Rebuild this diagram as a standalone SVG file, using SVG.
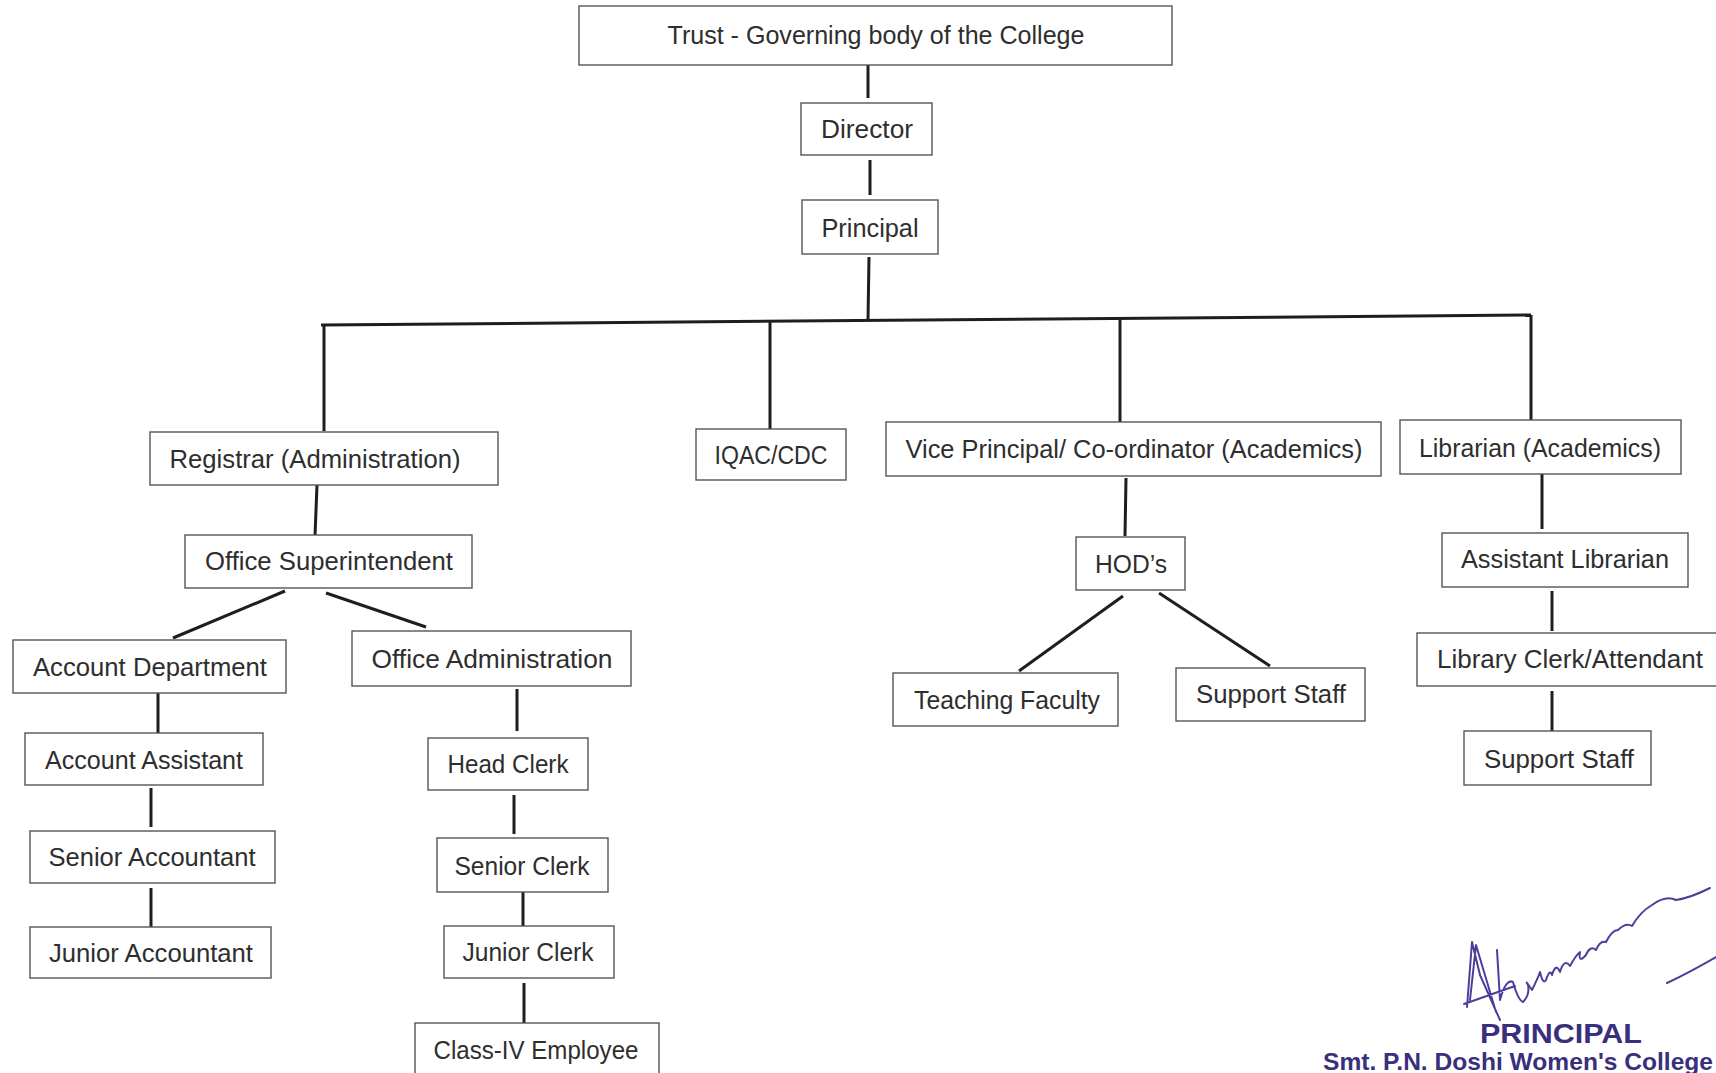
<svg xmlns="http://www.w3.org/2000/svg" width="1716" height="1073" viewBox="0 0 1716 1073">
<style>
.box{fill:#fff;stroke:#555;stroke-width:1.4}
.t{font-family:"Liberation Sans",Arial,sans-serif;font-size:25px;fill:#2e2e2e;text-anchor:middle}
.c{stroke:#1e1e1e;stroke-width:3;fill:none;stroke-linecap:butt}
.sig{stroke:#4b3f9c;stroke-width:2;fill:none;stroke-linecap:round;stroke-linejoin:round}
.st{font-family:"Liberation Sans",Arial,sans-serif;font-weight:bold;fill:#3a2f7c}
</style>
<rect width="1716" height="1073" fill="#fff"/>
<g id="connectors">
<line class="c" x1="868" y1="65" x2="868" y2="98"/>
<line class="c" x1="870" y1="160" x2="870" y2="195"/>
<line class="c" x1="869" y1="257" x2="868" y2="320"/>
<line class="c" x1="321" y1="325" x2="1531" y2="315"/>
<line class="c" x1="324" y1="325" x2="324" y2="431"/>
<line class="c" x1="770" y1="322" x2="770" y2="430"/>
<line class="c" x1="1120" y1="317" x2="1120" y2="422"/>
<line class="c" x1="1531" y1="315" x2="1531" y2="420"/>
<line class="c" x1="317" y1="485" x2="315" y2="536"/>
<line class="c" x1="285" y1="591" x2="173" y2="638"/>
<line class="c" x1="326" y1="593" x2="426" y2="627"/>
<line class="c" x1="158" y1="693" x2="158" y2="733"/>
<line class="c" x1="151" y1="788" x2="151" y2="827"/>
<line class="c" x1="151" y1="888" x2="151" y2="927"/>
<line class="c" x1="517" y1="689" x2="517" y2="731"/>
<line class="c" x1="514" y1="795" x2="514" y2="834"/>
<line class="c" x1="523" y1="892" x2="523" y2="932"/>
<line class="c" x1="524" y1="983" x2="524" y2="1023"/>
<line class="c" x1="1126" y1="478" x2="1125" y2="536"/>
<line class="c" x1="1123" y1="596" x2="1019" y2="671"/>
<line class="c" x1="1159" y1="593" x2="1270" y2="666"/>
<line class="c" x1="1542" y1="474" x2="1542" y2="529"/>
<line class="c" x1="1552" y1="591" x2="1552" y2="631"/>
<line class="c" x1="1552" y1="691" x2="1552" y2="731"/>
</g>
<g id="trust"><rect class="box" x="579" y="6" width="593" height="59"/><text class="t" x="876" y="44" textLength="417" lengthAdjust="spacingAndGlyphs">Trust - Governing body of the College</text></g>
<g id="director"><rect class="box" x="801" y="103" width="131" height="52"/><text class="t" x="867" y="138" textLength="92" lengthAdjust="spacingAndGlyphs">Director</text></g>
<g id="principal"><rect class="box" x="802" y="200" width="136" height="54"/><text class="t" x="870" y="237" textLength="97" lengthAdjust="spacingAndGlyphs">Principal</text></g>
<g id="registrar"><rect class="box" x="150" y="432" width="348" height="53"/><text class="t" x="315" y="468" textLength="291" lengthAdjust="spacingAndGlyphs">Registrar (Administration)</text></g>
<g id="iqac"><rect class="box" x="696" y="429" width="150" height="51"/><text class="t" x="771" y="464" textLength="113" lengthAdjust="spacingAndGlyphs">IQAC/CDC</text></g>
<g id="vice-principal"><rect class="box" x="886" y="422" width="495" height="54"/><text class="t" x="1134" y="458" textLength="457" lengthAdjust="spacingAndGlyphs">Vice Principal/ Co-ordinator (Academics)</text></g>
<g id="librarian"><rect class="box" x="1400" y="420" width="281" height="54"/><text class="t" x="1540" y="457" textLength="242" lengthAdjust="spacingAndGlyphs">Librarian (Academics)</text></g>
<g id="office-superintendent"><rect class="box" x="185" y="535" width="287" height="53"/><text class="t" x="329" y="570" textLength="248" lengthAdjust="spacingAndGlyphs">Office Superintendent</text></g>
<g id="account-department"><rect class="box" x="13" y="640" width="273" height="53"/><text class="t" x="150" y="676" textLength="234" lengthAdjust="spacingAndGlyphs">Account Department</text></g>
<g id="office-administration"><rect class="box" x="352" y="631" width="279" height="55"/><text class="t" x="492" y="668" textLength="241" lengthAdjust="spacingAndGlyphs">Office Administration</text></g>
<g id="account-assistant"><rect class="box" x="25" y="733" width="238" height="52"/><text class="t" x="144" y="769" textLength="198" lengthAdjust="spacingAndGlyphs">Account Assistant</text></g>
<g id="senior-accountant"><rect class="box" x="30" y="831" width="245" height="52"/><text class="t" x="152" y="866" textLength="207" lengthAdjust="spacingAndGlyphs">Senior Accountant</text></g>
<g id="junior-accountant"><rect class="box" x="30" y="927" width="241" height="51"/><text class="t" x="151" y="962" textLength="204" lengthAdjust="spacingAndGlyphs">Junior Accountant</text></g>
<g id="head-clerk"><rect class="box" x="428" y="738" width="160" height="52"/><text class="t" x="508" y="773" textLength="121" lengthAdjust="spacingAndGlyphs">Head Clerk</text></g>
<g id="senior-clerk"><rect class="box" x="437" y="838" width="171" height="54"/><text class="t" x="522" y="875" textLength="135" lengthAdjust="spacingAndGlyphs">Senior Clerk</text></g>
<g id="junior-clerk"><rect class="box" x="444" y="926" width="170" height="52"/><text class="t" x="528" y="961" textLength="131" lengthAdjust="spacingAndGlyphs">Junior Clerk</text></g>
<g id="class-iv"><rect class="box" x="415" y="1023" width="244" height="60"/><text class="t" x="536" y="1059" textLength="205" lengthAdjust="spacingAndGlyphs">Class-IV Employee</text></g>
<g id="hods"><rect class="box" x="1076" y="537" width="109" height="53"/><text class="t" x="1131" y="573" textLength="72" lengthAdjust="spacingAndGlyphs">HOD’s</text></g>
<g id="teaching-faculty"><rect class="box" x="893" y="673" width="225" height="53"/><text class="t" x="1007" y="709" textLength="186" lengthAdjust="spacingAndGlyphs">Teaching Faculty</text></g>
<g id="support-staff"><rect class="box" x="1176" y="668" width="189" height="53"/><text class="t" x="1271" y="703" textLength="150" lengthAdjust="spacingAndGlyphs">Support Staff</text></g>
<g id="assistant-librarian"><rect class="box" x="1442" y="533" width="246" height="54"/><text class="t" x="1565" y="568" textLength="208" lengthAdjust="spacingAndGlyphs">Assistant Librarian</text></g>
<g id="library-clerk"><rect class="box" x="1417" y="633" width="305" height="53"/><text class="t" x="1570" y="668" textLength="266" lengthAdjust="spacingAndGlyphs">Library Clerk/Attendant</text></g>
<g id="library-support-staff"><rect class="box" x="1464" y="731" width="187" height="54"/><text class="t" x="1559" y="768" textLength="150" lengthAdjust="spacingAndGlyphs">Support Staff</text></g>
<g id="signature">
<path class="sig" d="M1467,1007 L1472,942 L1480,975 L1500,1020 M1464,1004 L1515,986 M1470,1000 L1476,945 L1496,1012 M1497,950 L1500,1000 Q1506,978 1513,982 Q1518,1000 1523,1002 Q1530,995 1528,985 Q1524,978 1532,990 Q1538,978 1540,972 Q1543,985 1546,980 Q1550,968 1552,975 Q1556,962 1560,972 Q1564,958 1570,966 Q1576,955 1580,952 Q1578,964 1586,955 Q1590,945 1596,950 Q1600,940 1606,942 Q1612,930 1618,930 Q1626,922 1632,926 Q1640,912 1652,905 Q1666,895 1676,900 Q1690,898 1710,888 M1667,983 Q1690,972 1716,957"/>
<text class="st" x="1561" y="1043" font-size="27" text-anchor="middle" textLength="162" lengthAdjust="spacingAndGlyphs">PRINCIPAL</text>
<text class="st" x="1323" y="1070" font-size="24" textLength="390" lengthAdjust="spacingAndGlyphs">Smt. P.N. Doshi Women's College</text>
</g>
</svg>
